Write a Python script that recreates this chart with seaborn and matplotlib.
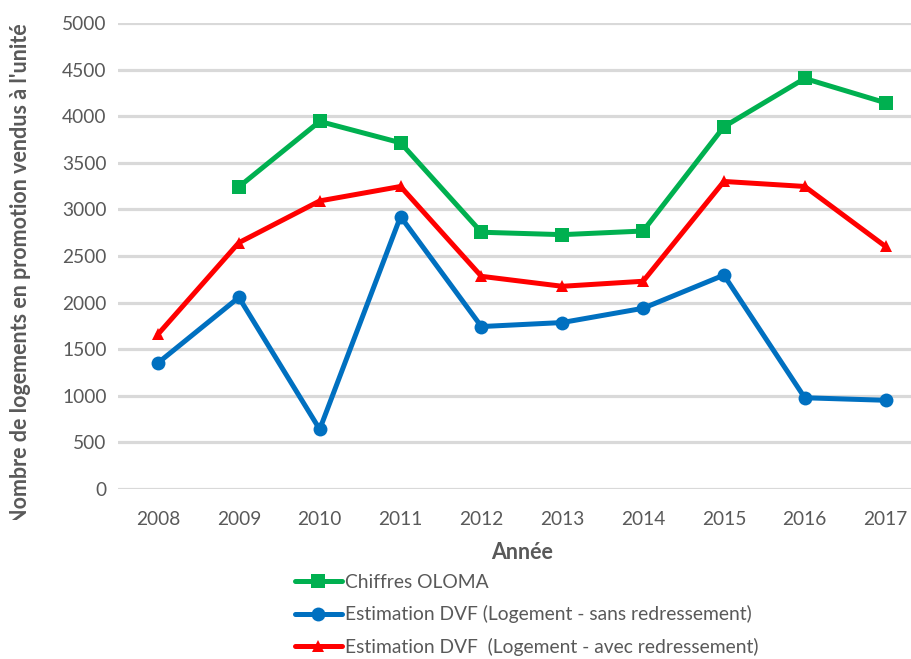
import numpy as np
import pandas as pd
import matplotlib
matplotlib.use("Agg")
import matplotlib.pyplot as plt
from matplotlib.transforms import Bbox, TransformedBbox
import seaborn as sns

years = ["2008", "2009", "2010", "2011", "2012", "2013", "2014", "2015", "2016", "2017"]
oloma = [np.nan, 3242, 3944, 3715, 2755, 2729, 2768, 3887, 4405, 4144]
dvf_sans = [1353, 2056, 640, 2923, 1743, 1786, 1939, 2295, 979, 952]
dvf_avec = [1661, 2643, 3091, 3246, 2282, 2175, 2229, 3300, 3246, 2602]

labels = ["Chiffres OLOMA",
          "Estimation DVF (Logement - sans redressement)",
          "Estimation DVF  (Logement - avec redressement)"]
colors = ["#00B050", "#0070C0", "#FF0000"]
markers = ["s", "o", "^"]
msizes = [10, 10, 9]

sns.set_theme(style="white")
plt.rcParams['font.family'] = ['Lato', 'DejaVu Sans']

fig = plt.figure(figsize=(9.12, 6.59), dpi=100)
W, H = 912, 659
AW = 926 - 117.6
ax = fig.add_axes([117.6 / W, 1 - 489 / H, AW / W, (489 - 23) / H])

x = np.arange(len(years))
for vals, lab, c, m, ms in zip([oloma, dvf_sans, dvf_avec], labels, colors, markers, msizes):
    df = pd.DataFrame({"x": x, "y": vals})
    sns.lineplot(data=df, x="x", y="y", ax=ax, color=c, lw=3.6, marker=m,
                 markersize=ms, markeredgewidth=0, label=lab, legend=False)

ax.set_xlim(-0.5, len(years) - 0.5)
ax.set_ylim(0, 5000)
ax.set_yticks(np.arange(0, 5001, 500))
ax.set_xticks(x)
ax.set_xticklabels(years)
ax.yaxis.grid(True, color="#D9D9D9", lw=2.3)
ax.xaxis.grid(False)
ax.set_axisbelow(True)
for s in ax.spines.values():
    s.set_visible(False)
ax.tick_params(axis="both", length=0, labelsize=13.8, colors="#595959", pad=8)
ax.tick_params(axis="x", pad=16)
ax.set_xlabel("Année", fontsize=15.5, fontweight="bold", color="#595959", labelpad=10)
ylab = ax.set_ylabel("Nombre de logements en promotion vendus à l'unité", fontsize=15.5,
                     fontweight="bold", color="#595959")
ax.yaxis.set_label_coords((31 - 117.6) / AW, 0.46)
ylab.set_clip_box(TransformedBbox(Bbox([[0, (H - 520) / H], [1, 1]]), fig.transFigure))
ylab.set_clip_on(True)

lines = ax.get_lines()
fig.legend(handles=lines, labels=labels, loc="upper left",
           bbox_to_anchor=(287 / W, 1 - 566 / H), frameon=False,
           fontsize=13.9, labelcolor="#595959", handlelength=2.45,
           handletextpad=0.15, labelspacing=0.75, borderaxespad=0)

fig.savefig("out.png", dpi=100)
